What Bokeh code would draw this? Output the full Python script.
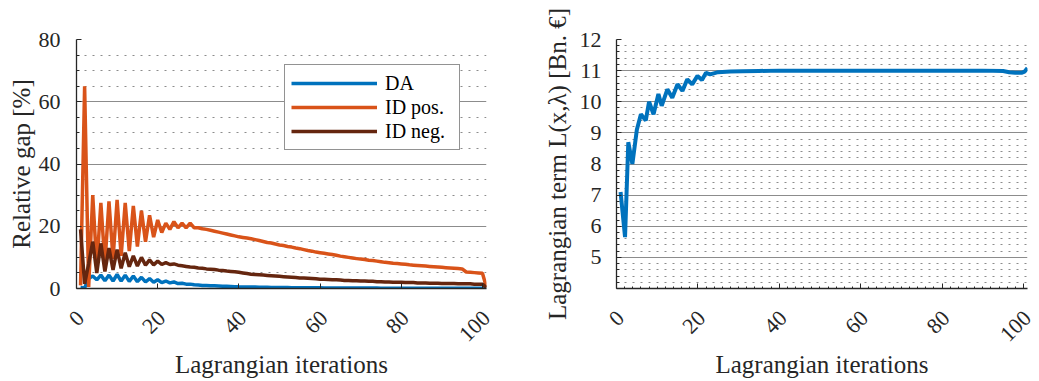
import math
from bokeh.plotting import figure
from bokeh.layouts import row
from bokeh.models import Range1d, FixedTicker, Legend, LegendItem, LinearAxis
from bokeh.embed import file_html
from bokeh.resources import INLINE

# ---------------- data ----------------
iterations = list(range(1, 102))

da_gap = [0.3, 0.2, 3.2, 4.0, 2.8, 4.3, 2.5, 4.3, 2.4, 4.5,
          2.4, 4.3, 2.3, 4.0, 2.2, 3.6, 2.1, 3.2, 2.0, 2.8,
          1.9, 2.4, 1.8, 2.1, 1.6, 1.7, 1.4, 1.4, 1.2, 1.1,
          1.0, 0.95, 0.9, 0.85, 0.8, 0.75, 0.7, 0.65, 0.6, 0.55,
          0.52, 0.5, 0.47, 0.45, 0.42, 0.4, 0.38, 0.36, 0.34, 0.32,
          0.3, 0.29, 0.28, 0.27, 0.26, 0.25, 0.24, 0.23, 0.22, 0.21,
          0.2, 0.2, 0.19, 0.18, 0.18, 0.17, 0.16, 0.16, 0.15, 0.15,
          0.14, 0.14, 0.13, 0.13, 0.12, 0.12, 0.12, 0.11, 0.11, 0.1,
          0.1, 0.1, 0.09, 0.09, 0.09, 0.08, 0.08, 0.08, 0.08, 0.07,
          0.07, 0.07, 0.07, 0.06, 0.06, 0.06, 0.06, 0.06, 0.05, 0.05,
          0.05]

id_pos_gap = [1.0, 65.0, 0.5, 30.0, 7.0, 27.5, 8.0, 28.0, 9.5, 28.5,
              10.5, 27.5, 12.0, 26.5, 13.5, 25.0, 15.0, 23.5, 16.5, 22.0,
              18.0, 21.0, 19.0, 21.5, 19.5, 21.0, 19.5, 21.0, 19.5, 19.5,
              19.2, 19.0, 18.7, 18.4, 18.1, 17.8, 17.5, 17.2, 16.9, 16.6,
              16.4, 16.2, 16.0, 15.7, 15.4, 15.1, 14.8, 14.6, 14.3, 14.0,
              13.8, 13.5, 13.3, 13.0, 12.8, 12.5, 12.2, 12.0, 11.7, 11.5,
              11.3, 11.1, 10.9, 10.7, 10.4, 10.2, 10.0, 9.8, 9.6, 9.5,
              9.3, 9.1, 9.0, 8.8, 8.6, 8.4, 8.3, 8.1, 8.0, 7.9,
              7.8, 7.6, 7.5, 7.4, 7.3, 7.2, 7.1, 7.0, 6.9, 6.8,
              6.7, 6.6, 6.5, 6.4, 6.3, 5.3, 5.2, 5.1, 5.0, 4.9,
              0.4]

id_neg_gap = [19.0, 1.5, 8.0, 15.0, 5.0, 14.5, 5.5, 13.0, 6.0, 12.5,
              6.5, 11.5, 7.0, 10.5, 7.2, 10.0, 7.5, 9.2, 7.6, 8.8,
              7.7, 8.3, 7.7, 7.9, 7.5, 7.3, 7.1, 6.9, 6.8, 6.6,
              6.5, 6.3, 6.2, 6.1, 5.9, 5.8, 5.6, 5.5, 5.4, 5.2,
              5.0, 4.8, 4.6, 4.5, 4.4, 4.3, 4.2, 4.1, 4.0, 3.9,
              3.8, 3.7, 3.6, 3.5, 3.4, 3.4, 3.3, 3.2, 3.1, 3.0,
              3.0, 2.9, 2.8, 2.8, 2.7, 2.6, 2.6, 2.5, 2.5, 2.4,
              2.4, 2.3, 2.3, 2.2, 2.2, 2.1, 2.1, 2.0, 2.0, 2.0,
              1.9, 1.9, 1.9, 1.8, 1.8, 1.8, 1.7, 1.7, 1.7, 1.6,
              1.6, 1.6, 1.6, 1.5, 1.5, 1.5, 1.5, 1.4, 1.4, 1.4,
              0.3]

lag_iter = [1, 2.1, 2.9, 3.9, 5, 6, 7.2, 8, 9.1, 10.3, 11.1, 12.5, 13.7, 15,
            16.2, 17.4, 18.6, 19.9, 21, 22, 23, 25, 28, 31, 35, 40, 50, 60,
            70, 80, 90, 95, 96.5, 98, 99.5, 100.3, 101]
lag_term = [7.1, 5.65, 8.7, 8.0, 9.1, 9.6, 9.4, 10.0, 9.6, 10.25, 9.87, 10.4,
            10.13, 10.56, 10.35, 10.72, 10.56, 10.83, 10.7, 10.93, 10.88,
            10.95, 10.97, 10.98, 10.99, 11.0, 11.0, 11.0, 11.0, 11.0,
            11.0, 10.99, 10.95, 10.93, 10.93, 10.97, 11.08]

x_ticks = [0, 20, 40, 60, 80, 100]
left_y_ticks = [0, 20, 40, 60, 80]
right_y_ticks = [5, 6, 7, 8, 9, 10, 11, 12]

C_DA = "#0072BD"
C_POS = "#D95319"
C_NEG = "#65260F"
FONT = "Liberation Serif"
TXT = "#262626"
X_MAX = 101
LABEL_SHIFT = 0.99  # tick labels sit slightly right of their ticks (MATLAB style)


def style(p, yticks, yminor):
    p.outline_line_color = None
    p.xgrid.grid_line_color = None
    p.ygrid.ticker = FixedTicker(ticks=yticks, minor_ticks=yminor)
    p.ygrid.grid_line_color = "#8c8c8c"
    p.ygrid.grid_line_width = 1
    p.ygrid.minor_grid_line_color = "#8c8c8c"
    p.ygrid.minor_grid_line_dash = "2 6"
    p.ygrid.minor_grid_line_width = 1.2
    for ax in (p.xaxis[0], p.yaxis[0]):
        ax.axis_line_color = TXT
        ax.axis_line_width = 1.3
        ax.major_tick_line_color = TXT
        ax.minor_tick_line_color = TXT
        ax.major_tick_in = 5
        ax.major_tick_out = 0
        ax.minor_tick_in = 0
        ax.minor_tick_out = 0
        ax.major_label_text_font = FONT
        ax.major_label_text_font_size = "22px"
        ax.major_label_text_color = TXT
        ax.axis_label_text_font = FONT
        ax.axis_label_text_font_size = "25px"
        ax.axis_label_text_color = TXT
        ax.axis_label_text_font_style = "normal"
    p.xaxis.ticker = FixedTicker(ticks=x_ticks)
    p.xaxis.major_label_overrides = {t: "" for t in x_ticks}
    p.xaxis.major_label_standoff = 0
    p.yaxis.ticker = FixedTicker(ticks=yticks, minor_ticks=yminor)
    p.yaxis.minor_tick_in = 3
    # second (label-only) x axis carrying the rotated tick labels + axis label
    p.extra_x_ranges = {"lbl": Range1d(-LABEL_SHIFT, X_MAX - LABEL_SHIFT)}
    lab = LinearAxis(x_range_name="lbl", ticker=FixedTicker(ticks=x_ticks))
    lab.axis_line_color = None
    lab.major_tick_line_color = None
    lab.minor_tick_line_color = None
    lab.major_tick_in = 0
    lab.major_tick_out = 0
    lab.minor_tick_in = 0
    lab.minor_tick_out = 0
    lab.major_label_orientation = math.pi / 4
    lab.major_label_standoff = 26
    lab.major_label_text_font = FONT
    lab.major_label_text_font_size = "22px"
    lab.major_label_text_color = TXT
    lab.axis_label = "Lagrangian iterations"
    lab.axis_label_text_font = FONT
    lab.axis_label_text_font_size = "25px"
    lab.axis_label_text_color = TXT
    lab.axis_label_text_font_style = "normal"
    lab.axis_label_standoff = 0
    p.add_layout(lab, "below")


# ---------------- left ----------------
p1 = figure(width=530, height=381, output_backend="svg", toolbar_location=None,
            x_range=Range1d(0, X_MAX), y_range=Range1d(0, 80),
            min_border_left=76, min_border_right=44, min_border_top=39,
            min_border_bottom=93)
style(p1, left_y_ticks, [v for v in range(0, 81, 5) if v % 20])
p1.yaxis.axis_label = "Relative gap [%]"
p1.yaxis.major_label_standoff = 16
p1.yaxis.axis_label_standoff = 1

r_da = p1.line(iterations, da_gap, line_color=C_DA, line_width=3.5)
r_pos = p1.line(iterations, id_pos_gap, line_color=C_POS, line_width=3.5)
r_neg = p1.line(iterations, id_neg_gap, line_color=C_NEG, line_width=3.5)

leg = Legend(items=[LegendItem(label="DA", renderers=[r_da]),
                    LegendItem(label="ID pos.", renderers=[r_pos]),
                    LegendItem(label="ID neg.", renderers=[r_neg])],
             location=(208, 138), orientation="vertical")
leg.label_text_font = FONT
leg.label_text_font_size = "20px"
leg.label_text_color = "#000000"
leg.glyph_width = 86
leg.glyph_height = 24
leg.label_height = 24
leg.label_width = 68
leg.label_standoff = 8
leg.spacing = 0
leg.padding = 6
leg.margin = 0
leg.border_line_color = TXT
leg.border_line_width = 1.2
leg.background_fill_color = "white"
leg.background_fill_alpha = 1
p1.add_layout(leg, "center")

# ---------------- right ----------------
p2 = figure(width=509, height=381, output_backend="svg", toolbar_location=None,
            x_range=Range1d(0, X_MAX), y_range=Range1d(4, 12),
            min_border_left=86, min_border_right=12, min_border_top=39,
            min_border_bottom=93)
style(p2, right_y_ticks, [round(4 + 0.2 * k, 1) for k in range(41) if k % 5])
p2.xaxis[0].ticker = FixedTicker(ticks=x_ticks, minor_ticks=list(range(0, 102, 2)))
p2.xaxis[0].minor_tick_in = 2
p2.yaxis.axis_label = "Lagrangian term L(x,λ) [Bn. €]"
p2.yaxis.major_label_standoff = 15
p2.yaxis.axis_label_standoff = 6

p2.line(lag_iter, lag_term, line_color=C_DA, line_width=4)

layout = row(p1, p2)
open("out.html", "w").write(file_html(layout, INLINE))
